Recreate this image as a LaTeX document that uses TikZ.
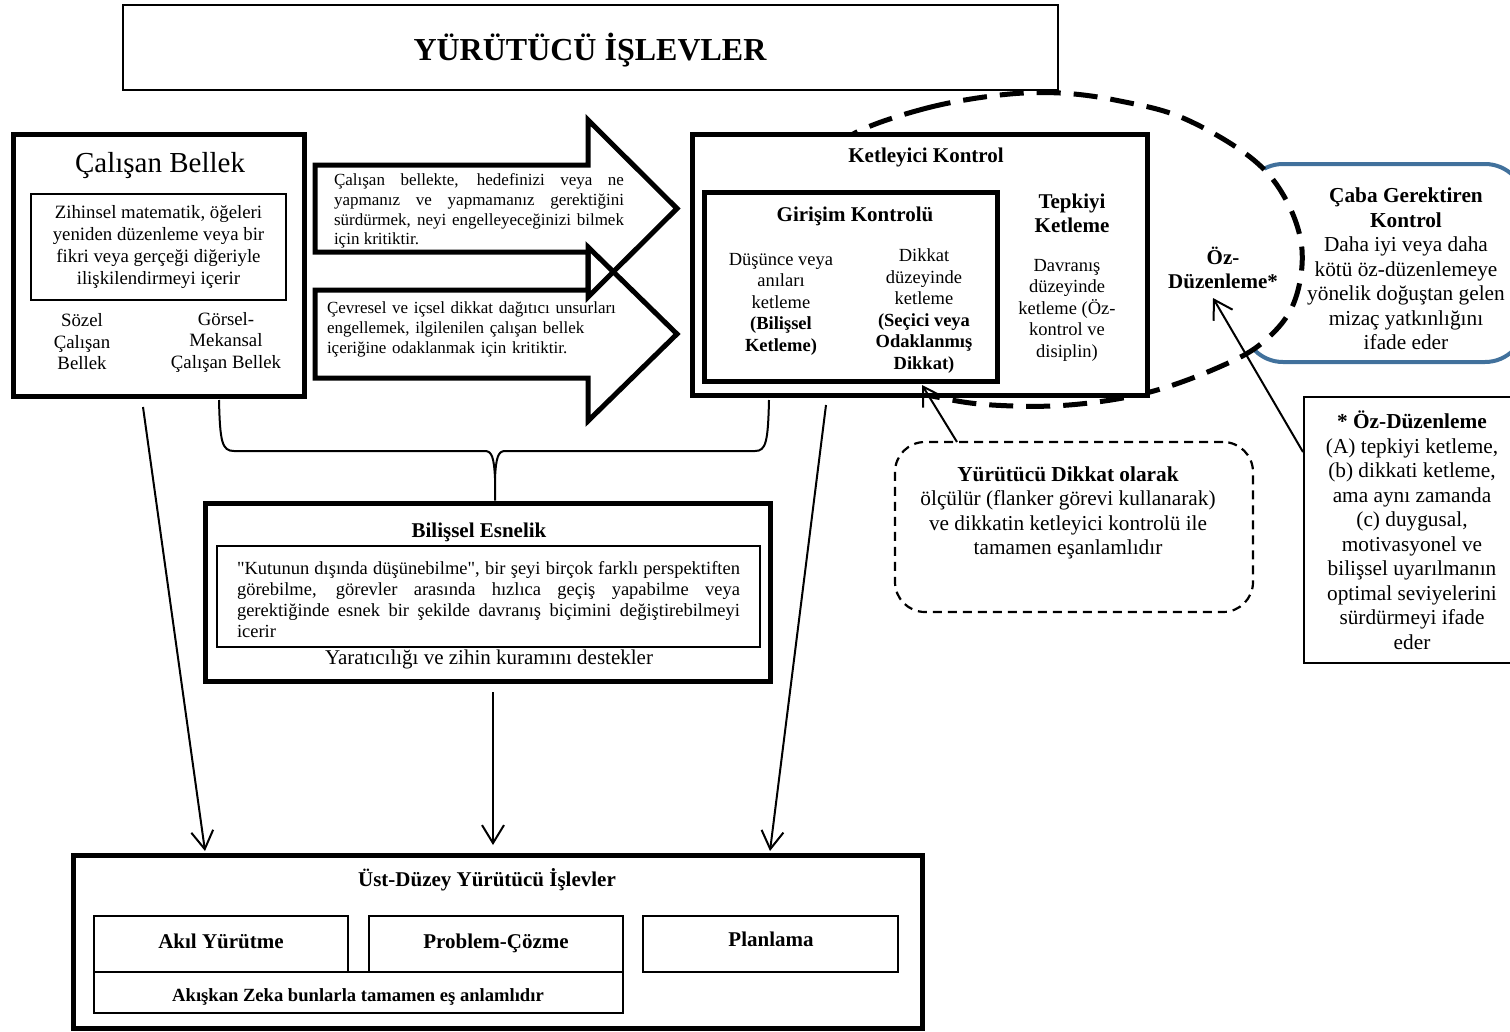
\documentclass[tikz,border=0pt]{standalone}
\usepackage{fontspec}
\setmainfont{Liberation Serif}
\newfontfamily\qfont{Liberation Serif}[Ligatures=TeXOff]
\usetikzlibrary{arrows.meta}
\definecolor{boxblue}{RGB}{65,113,156}
\newcommand\fsz[2]{\fontsize{#1}{#2}\selectfont}
\begin{document}
\begin{tikzpicture}[x=1pt,y=-1pt,
  thickbox/.style={draw, line width=5pt, fill=white, inner sep=0pt},
  thinbox/.style={draw, line width=1.5pt, inner sep=0pt},
  lbl/.style={inner sep=0pt, align=center},
  arr/.style={line width=2pt, -{Straight Barb[length=18pt,width=22pt]}},
  bigarrow/.style={line width=5pt, line join=miter}
]
\useasboundingbox (0,0) rectangle (1510,1031);

% Caba Gerektiren Kontrol (blue)
\node[draw=boxblue, line width=4pt, rounded corners=40pt, fill=white, inner sep=0pt,
      minimum width=282pt, minimum height=198pt] (cgk) at (1384,263) {};

% dashed ellipse (Oz-Duzenleme)
\draw[line width=5pt, dash pattern=on 24pt off 13pt, fill=white]
  plot[smooth cycle, tension=0.6] coordinates {(857,132) (927,108) (1000,95) (1060,93) (1120,101) (1183,118) (1250,157) (1285,198) (1302,250) (1293,305) (1262,343) (1217,368) (1150,392) (1080,404) (1013,406) (947,399) (870,375) (815,300) (805,220) (825,160)};

% title
\node[thinbox, minimum width=935pt, minimum height=85pt] (titlebox) at (590.5,47.5) {};
\node[lbl, font=\bfseries\fsz{32}{38}] (title) at (590,50) {YÜRÜTÜCÜ İŞLEVLER};

% Calisan Bellek
\node[thickbox, minimum width=291pt, minimum height=262pt] (cb) at (158.5,265) {};
\node[lbl, font=\fsz{29}{34}] (cbt) at (160,166) {Çalışan Bellek};
\node[thinbox, minimum width=255pt, minimum height=106pt] (cbin) at (158.5,247) {};
\node[lbl, font=\fsz{18.8}{21.7}] (cbtxt) at (158.5,247) {Zihinsel matematik, öğeleri\\yeniden düzenleme veya bir\\fikri veya gerçeği diğeriyle\\ilişkilendirmeyi içerir};
\node[lbl, font=\fsz{18.8}{21.5}] (sozel) at (82,342) {Sözel\\Çalışan\\Bellek};
\node[lbl, font=\fsz{18.8}{21.5}] (gorsel) at (226,342) {Görsel-\\Mekansal\\Çalışan Bellek};

% big arrows
\draw[bigarrow] (315,165) -- (588,165) -- (588,120) -- (677,208.5) -- (588,297) -- (588,252) -- (315,252) -- cycle;
\draw[bigarrow] (315,290) -- (588,290) -- (588,247) -- (677,334) -- (588,421) -- (588,378) -- (315,378) -- cycle;
\node[inner sep=0pt, text width=290pt, align=justify, font={\fsz{17}{19.7}\hyphenpenalty=10000\tolerance=10000}] (a1txt) at (479,211)
 {Çalışan bellekte, hedefinizi veya ne\linebreak yapmanız ve yapmamanız gerektiğini\linebreak sürdürmek, neyi engelleyeceğinizi bilmek\linebreak için kritiktir.};
\node[inner sep=0pt, text width=290pt, align=left, font=\fsz{17}{20}] (a2txt) at (472,329)
 {Çevresel ve içsel dikkat dağıtıcı unsurları\\engellemek, ilgilenilen çalışan bellek\\içeriğine odaklanmak için kritiktir.};

% Ketleyici Kontrol
\node[thickbox, minimum width=455pt, minimum height=261pt] (kk) at (919.5,264.5) {};
\node[lbl, font=\bfseries\fsz{21}{24}] (kkt) at (926,157) {Ketleyici Kontrol};
\node[draw, line width=5pt, inner sep=0pt, minimum width=293pt, minimum height=189pt] (gk) at (850.5,286.5) {};
\node[lbl, font=\bfseries\fsz{21}{24}] (gkt) at (855,216) {Girişim Kontrolü};
\node[lbl, font=\fsz{18.5}{21.5}] (gkl) at (781,304) {Düşünce veya\\anıları\\ketleme\\\textbf{(Bilişsel}\\\textbf{Ketleme)}};
\node[lbl, font=\fsz{18.5}{21.5}] (gkr) at (924,311) {Dikkat\\düzeyinde\\ketleme\\\textbf{(Seçici veya}\\\textbf{Odaklanmış}\\\textbf{Dikkat)}};
\node[lbl, font=\bfseries\fsz{21}{24}] (tk) at (1072,213) {Tepkiyi\\Ketleme};
\node[lbl, font=\fsz{18.5}{21.5}] (dav) at (1067,310) {Davranış\\düzeyinde\\ketleme (Öz-\\kontrol ve\\disiplin)};

% Oz-Duzenleme label
\node[lbl, font=\bfseries\fsz{21}{24}] (oz) at (1223,268) {Öz-\\Düzenleme*};
% Caba text
\node[lbl, font=\fsz{21.3}{24.5}] (cgktxt) at (1406,269) {\textbf{Çaba Gerektiren}\\\textbf{Kontrol}\\Daha iyi veya daha\\kötü öz-düzenlemeye\\yönelik doğuştan gelen\\mizaç yatkınlığını\\ifade eder};

% Yurutucu Dikkat dashed box
\node[draw, line width=2.2pt, dash pattern=on 9pt off 6pt, rounded corners=30pt, inner sep=0pt,
      minimum width=358pt, minimum height=170pt] (ydk) at (1074,527) {};
\node[lbl, font=\fsz{21.3}{24.5}] (ydktxt) at (1068,513) {\textbf{Yürütücü Dikkat olarak}\\ölçülür (flanker görevi kullanarak)\\ve dikkatin ketleyici kontrolü ile\\tamamen eşanlamlıdır};

% footnote box
\node[thinbox, minimum width=211pt, minimum height=266pt] (fn) at (1409.5,530) {};
\node[lbl, font=\fsz{21.3}{24.5}] (fntxt) at (1412,530) {\textbf{* Öz-Düzenleme}\\(A) tepkiyi ketleme,\\(b) dikkati ketleme,\\ama aynı zamanda\\(c) duygusal,\\motivasyonel ve\\bilişsel uyarılmanın\\optimal seviyelerini\\sürdürmeyi ifade\\eder};

% Bilissel Esneklik
\node[thickbox, minimum width=565pt, minimum height=178pt] (be) at (487.5,592) {};
\node[lbl, font=\bfseries\fsz{21}{24}] (bet) at (479,532) {Bilişsel Esnelik};
\node[thinbox, minimum width=543pt, minimum height=101pt] (bein) at (488.5,596.5) {};
\node[inner sep=0pt, text width=503pt, align=justify, font={\fsz{18.5}{21}\hyphenpenalty=10000\tolerance=10000}] (betxt) at (488.5,600)
 {{\qfont"}Kutunun dışında düşünebilme{\qfont"}, bir şeyi birçok farklı perspektiften\linebreak görebilme, görevler arasında hızlıca geçiş yapabilme veya\linebreak gerektiğinde esnek bir şekilde davranış biçimini değiştirebilmeyi\linebreak icerir};
\node[lbl, font=\fsz{21}{24}] (beb) at (489,659) {Yaratıcılığı ve zihin kuramını destekler};

% Ust-Duzey
\node[thickbox, minimum width=849pt, minimum height=173pt] (ud) at (497.5,941.5) {};
\node[lbl, font=\bfseries\fsz{21}{24}] (udt) at (487,880) {Üst-Düzey Yürütücü İşlevler};
\node[thinbox, minimum width=254pt, minimum height=56pt] (ay) at (221,944) {};
\node[thinbox, minimum width=254pt, minimum height=56pt] (pc) at (496,944) {};
\node[thinbox, minimum width=255pt, minimum height=56pt] (pl) at (770.5,944) {};
\node[thinbox, minimum width=529pt, minimum height=41pt] (az) at (358.5,992.5) {};
\node[lbl, anchor=base, font=\bfseries\fsz{21}{24}] (aytxt) at (221,948) {Akıl Yürütme};
\node[lbl, anchor=base, font=\bfseries\fsz{21}{24}] (pctxt) at (496,948) {Problem-Çözme};
\node[lbl, anchor=base, font=\bfseries\fsz{21}{24}] (pltxt) at (771,946) {Planlama};
\node[lbl, anchor=base, font=\bfseries\fsz{18.6}{22}] (aztxt) at (358,1001) {Akışkan Zeka bunlarla tamamen eş anlamlıdır};

% brace
\coordinate (brL) at (219,400);
\coordinate (brR) at (769,400);
\coordinate (brM) at (495,478);
\draw[line width=2pt] (brL) .. controls (220,442) and (222,451) .. (234,451) -- (485,451)
   .. controls (492,451) and (494,458) .. (brM) -- (be.north -| brM);
\draw[line width=2pt] (brR) .. controls (768,442) and (766,451) .. (755,451) -- (505,451)
   .. controls (498,451) and (496,458) .. (brM);

% arrows
\coordinate (cbA) at (143,407);
\coordinate (udL) at (205,851);
\coordinate (beA) at (493,692);
\coordinate (udM) at (493,845);
\coordinate (kkA) at (826,405);
\coordinate (udR) at (770,851);
\draw[arr] (cbA) -- (udL);
\draw[arr] (beA) -- (udM);
\draw[arr] (kkA) -- (udR);

\coordinate (ydkA) at (957,442);
\coordinate (gkB) at (922,385);
\draw[arr] (ydkA) -- (gkB);
\coordinate (fnA) at (1303,452);
\coordinate (ozB) at (1213,298);
\draw[arr] (fnA) -- (ozB);
\end{tikzpicture}
\end{document}
